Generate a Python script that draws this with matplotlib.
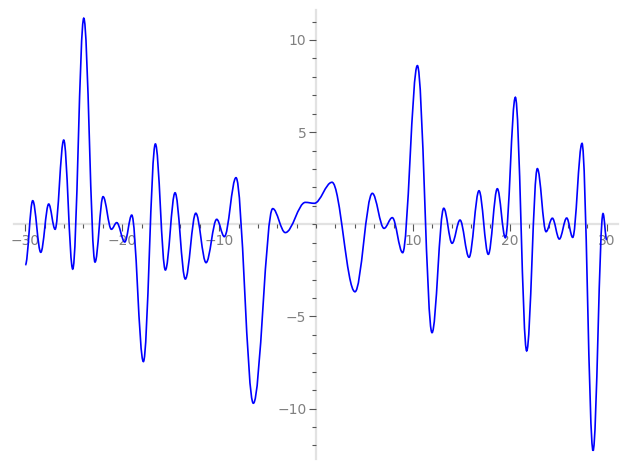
import matplotlib
matplotlib.use("Agg")
import matplotlib.pyplot as plt
from matplotlib.path import Path
from matplotlib.patches import PathPatch
from matplotlib.ticker import MultipleLocator

# Local extrema of the curve, plus its end points
x_pts = [-30.00, -29.24, -28.41, -27.59, -26.93, -26.04, -25.11, -23.97, -22.81,
         -21.98, -21.12, -20.57, -19.74, -19.02, -17.82, -16.58, -15.55, -14.55,
         -13.49, -12.41, -11.35, -10.25, -9.46, -8.26, -6.47, -4.47, -3.17,
         -1.10, -0.18, 1.65, 4.02, 5.81, 7.02, 7.87, 8.94, 10.46, 11.97, 13.18,
         14.04, 14.86, 15.79, 16.82, 17.78, 18.71, 19.54, 20.57, 21.74, 22.84,
         23.74, 24.39, 25.11, 25.87, 26.49, 27.45, 28.59, 29.62, 30.00]
y_pts = [-2.21, 1.28, -1.52, 1.10, -0.27, 4.57, -2.43, 11.18, -2.05,
         1.50, -0.27, 0.09, -0.96, 0.50, -7.45, 4.36, -2.48, 1.71,
         -2.97, 0.60, -2.08, 0.27, -0.67, 2.53, -9.71, 0.85, -0.45,
         1.19, 1.14, 2.28, -3.66, 1.68, -0.22, 0.36, -1.54, 8.61, -5.88, 0.87,
         -1.03, 0.23, -1.79, 1.82, -1.63, 1.93, -0.73, 6.89, -6.87, 3.02,
         -0.40, 0.33, -0.80, 0.34, -0.71, 4.39, -12.28, 0.58, -0.85]

x_major = [-30, -20, -10, 10, 20, 30]
y_major = [-10, -5, 5, 10]

W, H = 627, 470
fig = plt.figure(figsize=(W / 100, H / 100), dpi=100)
ax = fig.add_axes([0.0219, 0.0228, 0.9643, 0.9568])

# smooth curve through the extrema (horizontal tangents at each extremum)
h = 0.36
verts = [(x_pts[0], y_pts[0])]
codes = [Path.MOVETO]
for i in range(len(x_pts) - 1):
    x0, y0, x1, y1 = x_pts[i], y_pts[i], x_pts[i + 1], y_pts[i + 1]
    dx = x1 - x0
    verts += [(x0 + h * dx, y0), (x1 - h * dx, y1), (x1, y1)]
    codes += [Path.CURVE4] * 3
ax.add_patch(PathPatch(Path(verts, codes), facecolor="none",
                       edgecolor="#0000ff", lw=1.2, zorder=3))

ax.set_xlim(-31.2, 31.2)
ax.set_ylim(-12.75, 11.65)

for s in ["top", "right"]:
    ax.spines[s].set_visible(False)
ax.spines["left"].set_position(("data", 0))
ax.spines["bottom"].set_position(("data", 0))
for s in ["left", "bottom"]:
    ax.spines[s].set_color("#e2e2e2")
    ax.spines[s].set_linewidth(1.6)
    ax.spines[s].set_zorder(1)

ax.set_xticks(x_major)
ax.set_xticklabels([f"\u2212{-v}" if v < 0 else str(v) for v in x_major])
ax.set_yticks(y_major)
ax.set_yticklabels([f"\u2212{-v}" if v < 0 else str(v) for v in y_major])
ax.xaxis.set_minor_locator(MultipleLocator(2))
ax.yaxis.set_minor_locator(MultipleLocator(1))
ax.tick_params(which="both", colors="#555555", labelcolor="#808080",
               labelsize=10, width=0.8, direction="out")
ax.tick_params(which="major", length=5, pad=2)
ax.tick_params(which="minor", length=3)
ax.patch.set_visible(False)

fig.savefig("out.png", dpi=100)
